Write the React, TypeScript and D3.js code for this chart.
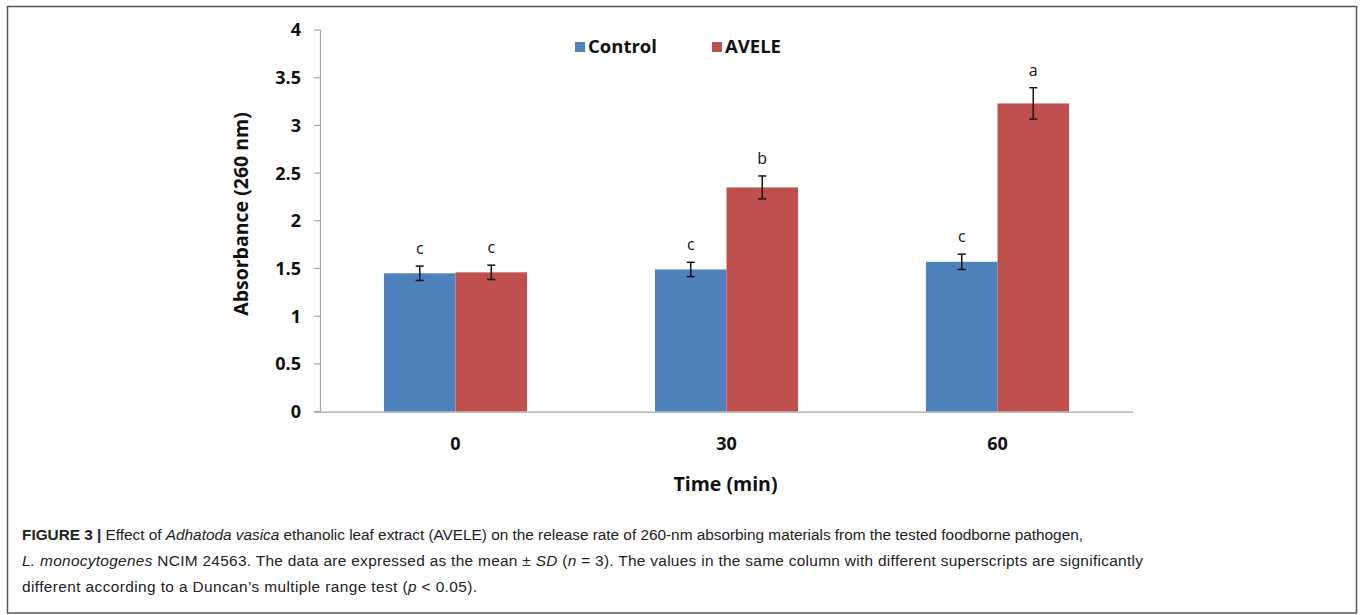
import React from "react";
import * as d3 from "d3";

const categories = ["0", "30", "60"];
const seriesNames = ["Control", "AVELE"];
const controlValues = [1.45, 1.49, 1.57];
const avelaValues = [1.46, 2.35, 3.23];
const controlSD = [0.075, 0.075, 0.08];
const aveleSD = [0.075, 0.12, 0.165];
const controlLetters = ["c", "c", "c"];
const aveleLetters = ["c", "b", "a"];
const yTicks = [0, 0.5, 1, 1.5, 2, 2.5, 3, 3.5, 4];
const colors = ["#4F81BD", "#C0504D"];

const W = 1360;
const H = 615;
const chartFont = "'Open Sans', 'DejaVu Sans', sans-serif";
const capFont = "'Liberation Sans', Arial, sans-serif";

export default function App() {
  const x = d3
    .scaleBand<string>()
    .domain(categories)
    .range([320, 1133])
    .paddingInner(0.472)
    .paddingOuter(0.236);
  const xs = d3.scaleBand<string>().domain(seriesNames).range([0, x.bandwidth()]).padding(0);
  const y = d3.scaleLinear().domain([0, 4]).range([411.6, 30]);

  const series = [
    { name: seriesNames[0], values: controlValues, sd: controlSD, letters: controlLetters, color: colors[0] },
    { name: seriesNames[1], values: avelaValues, sd: aveleSD, letters: aveleLetters, color: colors[1] },
  ];

  const [x0, x1] = x.range();
  const capW = 4;

  return (
    <svg
      width={W}
      height={H}
      style={{ position: "absolute", left: 0, top: 0, background: "#fff" }}
      xmlns="http://www.w3.org/2000/svg"
    >
      <rect x={0} y={0} width={W} height={H} fill="#fff" />
      <rect x={7.5} y={6.5} width={1349} height={606.5} fill="none" stroke="#555" strokeWidth={1.5} />

      {/* bars */}
      {series.map((s) =>
        categories.map((c, i) => {
          const bx = (x(c) ?? 0) + (xs(s.name) ?? 0);
          const bw = xs.bandwidth();
          return (
            <rect
              key={s.name + c}
              x={bx}
              y={y(s.values[i])}
              width={bw}
              height={y(0) - y(s.values[i])}
              fill={s.color}
            />
          );
        })
      )}

      {/* error bars and letters */}
      {series.map((s) =>
        categories.map((c, i) => {
          const cx = (x(c) ?? 0) + (xs(s.name) ?? 0) + xs.bandwidth() / 2;
          const top = y(s.values[i] + s.sd[i]);
          const bot = y(s.values[i] - s.sd[i]);
          return (
            <g key={"e" + s.name + c}>
              <line x1={cx} x2={cx} y1={top} y2={bot} stroke="#111" strokeWidth={1.5} />
              <line x1={cx - capW} x2={cx + capW} y1={top} y2={top} stroke="#111" strokeWidth={1.5} />
              <line x1={cx - capW} x2={cx + capW} y1={bot} y2={bot} stroke="#111" strokeWidth={1.5} />
              <text
                x={cx}
                y={top - 12}
                textAnchor="middle"
                fontFamily={chartFont}
                fontSize={16}
                fill="#111"
              >
                {s.letters[i]}
              </text>
            </g>
          );
        })
      )}

      {/* axes */}
      <line x1={320.5} x2={320.5} y1={y(4)} y2={y(0)} stroke="#A6A6A6" strokeWidth={1.2} />
      <line x1={314} x2={x1} y1={y(0) + 0.5} y2={y(0) + 0.5} stroke="#A6A6A6" strokeWidth={1.2} />
      {yTicks.map((t) => (
        <g key={"t" + t}>
          <line x1={314} x2={320.5} y1={y(t)} y2={y(t)} stroke="#A6A6A6" strokeWidth={1.2} />
          <text
            x={301}
            y={y(t)}
            dy="0.36em"
            textAnchor="end"
            fontFamily={chartFont}
            fontWeight="bold"
            fontSize={18}
            fill="#111"
          >
            {t}
          </text>
        </g>
      ))}
      {categories.map((c) => (
        <text
          key={"c" + c}
          x={(x(c) ?? 0) + x.bandwidth() / 2}
          y={450}
          textAnchor="middle"
          fontFamily={chartFont}
          fontWeight="bold"
          fontSize={18}
          fill="#111"
        >
          {c}
        </text>
      ))}
      <text
        x={(x0 + x1) / 2 - 1}
        y={491}
        textAnchor="middle"
        fontFamily={chartFont}
        fontWeight="bold"
        fontSize={19.5}
        fill="#111"
      >
        Time (min)
      </text>
      <text
        transform={`translate(248,214) rotate(-90)`}
        textAnchor="middle"
        fontFamily={chartFont}
        fontWeight="bold"
        fontSize={19.5}
        fill="#111"
      >
        Absorbance (260 nm)
      </text>

      {/* legend */}
      {series.map((s, i) => {
        const lx = [575, 712][i];
        return (
          <g key={"l" + s.name}>
            <rect x={lx} y={42} width={10} height={10} fill={s.color} />
            <text
              x={lx + 13}
              y={53}
              fontFamily={chartFont}
              fontWeight="bold"
              fontSize={18.5}
              fill="#111"
            >
              {s.name}
            </text>
          </g>
        );
      })}

      {/* caption */}
      <g fontFamily={capFont} fontSize={15.4} fill="#222">
        <text x={22} y={540} textLength={1061} lengthAdjust="spacing">
          <tspan fontWeight="bold">FIGURE 3 |</tspan>
          <tspan> Effect of </tspan>
          <tspan fontStyle="italic">Adhatoda vasica</tspan>
          <tspan> ethanolic leaf extract (AVELE) on the release rate of 260-nm absorbing materials from the tested foodborne pathogen,</tspan>
        </text>
        <text x={22} y={566} textLength={1121} lengthAdjust="spacing">
          <tspan fontStyle="italic">L. monocytogenes</tspan>
          <tspan> NCIM 24563. The data are expressed as the mean ± </tspan>
          <tspan fontStyle="italic">SD</tspan>
          <tspan> (</tspan>
          <tspan fontStyle="italic">n</tspan>
          <tspan> = 3). The values in the same column with different superscripts are significantly</tspan>
        </text>
        <text x={22} y={592} textLength={455} lengthAdjust="spacing">
          <tspan>different according to a Duncan’s multiple range test (</tspan>
          <tspan fontStyle="italic">p</tspan>
          <tspan> &lt; 0.05).</tspan>
        </text>
      </g>
    </svg>
  );
}
